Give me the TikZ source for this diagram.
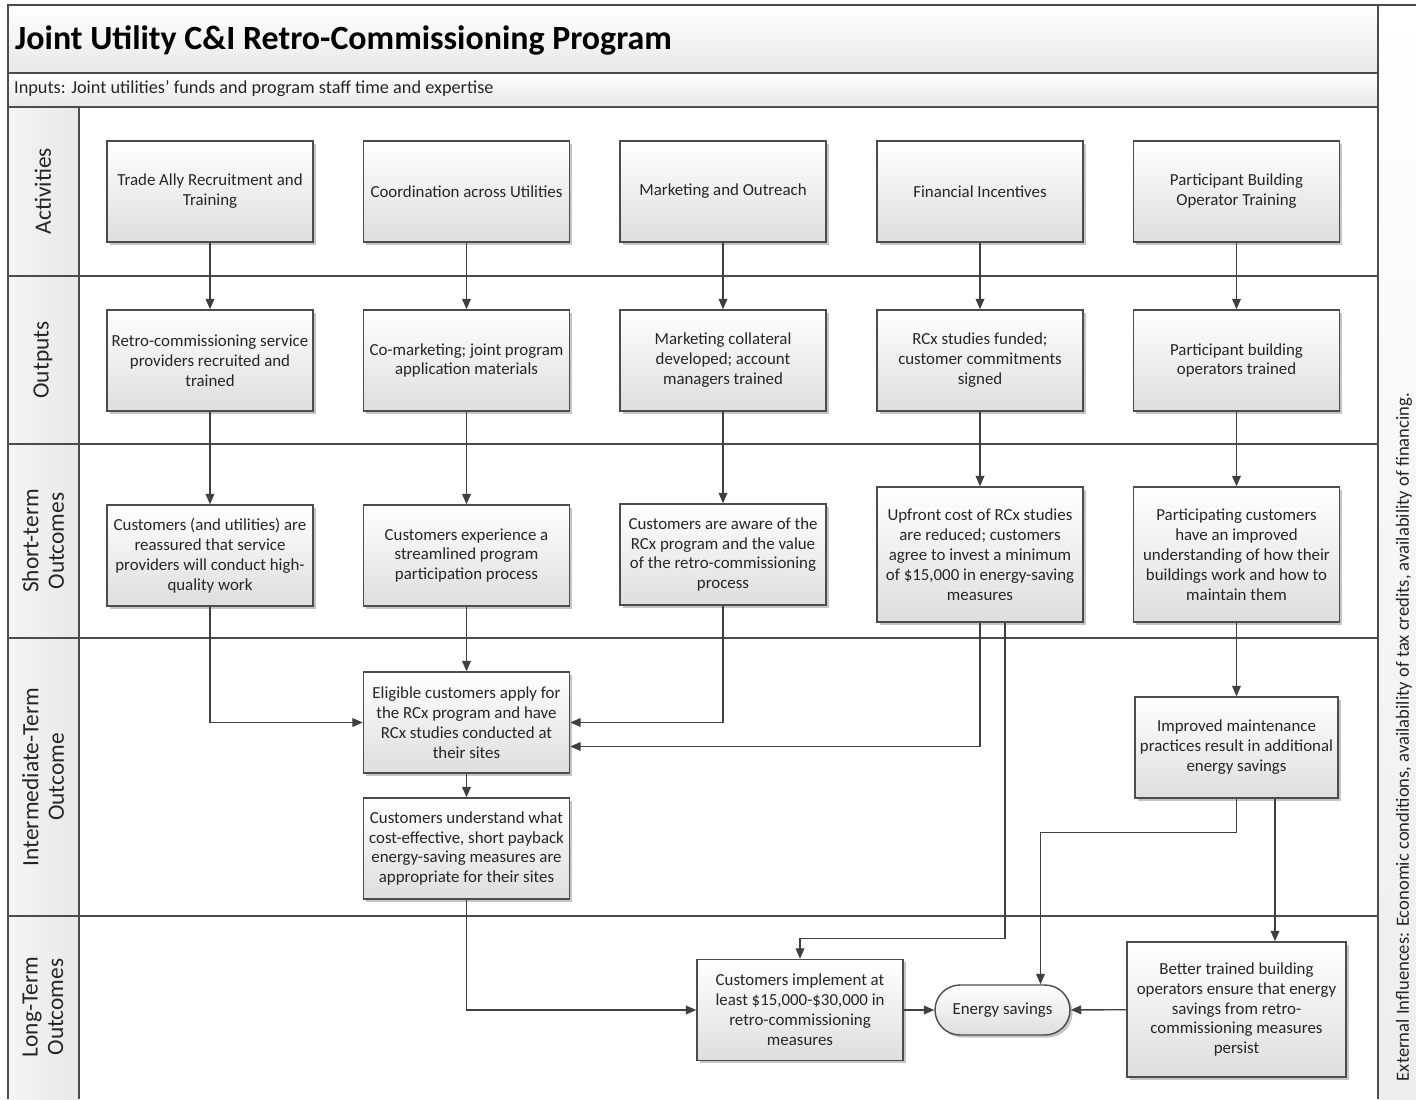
\documentclass[tikz,border=0pt]{standalone}
\usepackage{fontspec}
\setmainfont{Carlito}
\usetikzlibrary{arrows.meta,shadows,calc}

\begin{document}
\begin{tikzpicture}[x=0.02cm, y=-0.02cm,
        frame/.style={draw=black!70, line width=0.9pt},
        band/.style={frame, top color=white, bottom color=black!9},
        lane/.style={rotate=90, align=center, font=\fontsize{13.3}{14.5}\selectfont, text=black!85},
        box/.style={draw=black!70, line width=0.8pt, top color=white, bottom color=black!13,
            drop shadow={shadow xshift=1.5pt, shadow yshift=-1.5pt, fill=black!45, opacity=0.5},
            align=center, inner sep=2pt, minimum width=4.12cm, minimum height=2.02cm,
            font=\fontsize{9.6}{11.35}\selectfont, text=black!85},
        tall/.style={box, minimum height=2.7cm},
        arr/.style={draw=black!75, line width=0.8pt, -{Triangle[length=6pt,width=5pt]}}]
            \useasboundingbox (0,0) rectangle (1416,1099);

            % frame, bands and lanes
            \shade[top color=white, bottom color=black!7] (1378,5) rectangle (1416,1099);
            \shade[left color=black!4, right color=black!9] (8,107) rectangle (79,1099);
            \draw[band] (8,5) rectangle (1378,73);
            \draw[band] (8,73) rectangle (1378,107);
            \draw[frame] (1378,5) -- (1416,5);
            \draw[frame] (1378,5) -- (1378,1099);
            \draw[frame] (8,5) -- (8,1099);
            \draw[frame] (79,107) -- (79,1099);
            \draw[frame] (8,276) -- (1378,276);
            \draw[frame] (8,444) -- (1378,444);
            \draw[frame] (8,638) -- (1378,638);
            \draw[frame] (8,916) -- (1378,916);

            \node[anchor=west, font=\fontsize{19.3}{22}\selectfont\bfseries] (title) at (9,40) {Joint Utility C\&I Retro-Commissioning Program};
            \node[anchor=west, font=\fontsize{10.4}{12}\selectfont, text=black!85] (inputs) at (8,89) {Inputs: Joint utilities’ funds and program staff time and expertise};

            \node[lane] (lact) at (43,191) {Activities};
            \node[lane] (lout) at (43,360) {Outputs};
            \node[lane] (lshort) at (43,541) {Short-term\\Outcomes};
            \node[lane] (linter) at (43,777) {Intermediate-Term\\Outcome};
            \node[lane] (llong) at (43,1007) {Long-Term\\Outcomes};
            \node[rotate=90, font=\fontsize{10.6}{12}\selectfont, text=black!85] (extern) at (1404,737) {External Influences: Economic conditions, availability of tax credits, availability of financing.};

            % activities
            \node[box] (act1) at (210,191.5) {Trade Ally Recruitment and\\Training};
            \node[box] (act2) at (466.5,191.5) {Coordination across Utilities};
            \node[box] (act3) at (723,191.5) {Marketing and Outreach};
            \node[box] (act4) at (980,191.5) {Financial Incentives};
            \node[box] (act5) at (1236.5,191.5) {Participant Building\\Operator Training};

            % outputs
            \node[box] (out1) at (210,360.5) {Retro-commissioning service\\providers recruited and\\trained};
            \node[box] (out2) at (466.5,360.5) {Co-marketing; joint program\\application materials};
            \node[box] (out3) at (723,360.5) {Marketing collateral\\developed; account\\managers trained};
            \node[box] (out4) at (980,360.5) {RCx studies funded;\\customer commitments\\signed};
            \node[box] (out5) at (1236.5,360.5) {Participant building\\operators trained};

            % short-term outcomes
            \node[box] (st1) at (210,555.5) {Customers (and utilities) are\\reassured that service\\providers will conduct high-\\quality work};
            \node[box] (st2) at (466.5,555.5) {Customers experience a\\streamlined program\\participation process};
            \node[box] (st3) at (723,554.5) {Customers are aware of the\\RCx program and the value\\of the retro-commissioning\\process};
            \node[tall] (st4) at (980,554.5) {Upfront cost of RCx studies\\are reduced; customers\\agree to invest a minimum\\of \$15,000 in energy-saving\\measures};
            \node[tall] (st5) at (1236.5,554.5) {Participating customers\\have an improved\\understanding of how their\\buildings work and how to\\maintain them};

            % intermediate-term outcomes
            \node[box] (elig) at (466.5,722.5) {Eligible customers apply for\\the RCx program and have\\RCx studies conducted at\\their sites};
            \node[box] (underst) at (466.5,848.5) {Customers understand what\\cost-effective, short payback\\energy-saving measures are\\appropriate for their sites};
            \node[box, minimum width=4.06cm] (maint) at (1236.5,747.5) {Improved maintenance\\practices result in additional\\energy savings};

            % long-term outcomes
            \node[box] (impl) at (800,1010) {Customers implement at\\least \$15,000-\$30,000 in\\retro-commissioning\\measures};
            \node[box, rounded corners=0.5cm, minimum width=2.7cm, minimum height=1cm] (savings) at (1002.5,1010) {Energy savings};
            \node[tall, minimum width=4.38cm] (better) at (1236.5,1009.5) {Better trained building\\operators ensure that energy\\savings from retro-\\commissioning measures\\persist};

            % connectors
            \draw[arr] (act1) -- (out1);
            \draw[arr] (act2) -- (out2);
            \draw[arr] (act3) -- (out3);
            \draw[arr] (act4) -- (out4);
            \draw[arr] (act5) -- (out5);
            \draw[arr] (out1) -- (st1);
            \draw[arr] (out2) -- (st2);
            \draw[arr] (out3) -- (st3);
            \draw[arr] (out4) -- (st4);
            \draw[arr] (out5) -- (st5);

            \draw[arr] (st1.south) |- (elig.west);
            \draw[arr] (st2) -- (elig);
            \draw[arr] (st3.south) |- (elig.east);
            \draw[arr] (st4.south) |- ($(elig.east)+(0,24)$);
            \coordinate (st4b) at ($(st4.south)+(25,0)$);
            \draw[arr] (st4b) -- ++(0,316) -| (impl.north);
            \draw[arr] (st5) -- (maint);

            \draw[arr] (elig) -- (underst);
            \draw[arr] (underst.south) |- (impl.west);
            \draw[arr] (maint.south) -- ++(0,34) -| ($(savings.north)+(38,0)$);
            \draw[arr] ($(maint.south)+(38.5,0)$) -- ($(better.north)+(38.5,0)$);
            \draw[arr] (impl) -- (savings);
            \draw[arr] (better) -- (savings);
        \end{tikzpicture}
\end{document}
